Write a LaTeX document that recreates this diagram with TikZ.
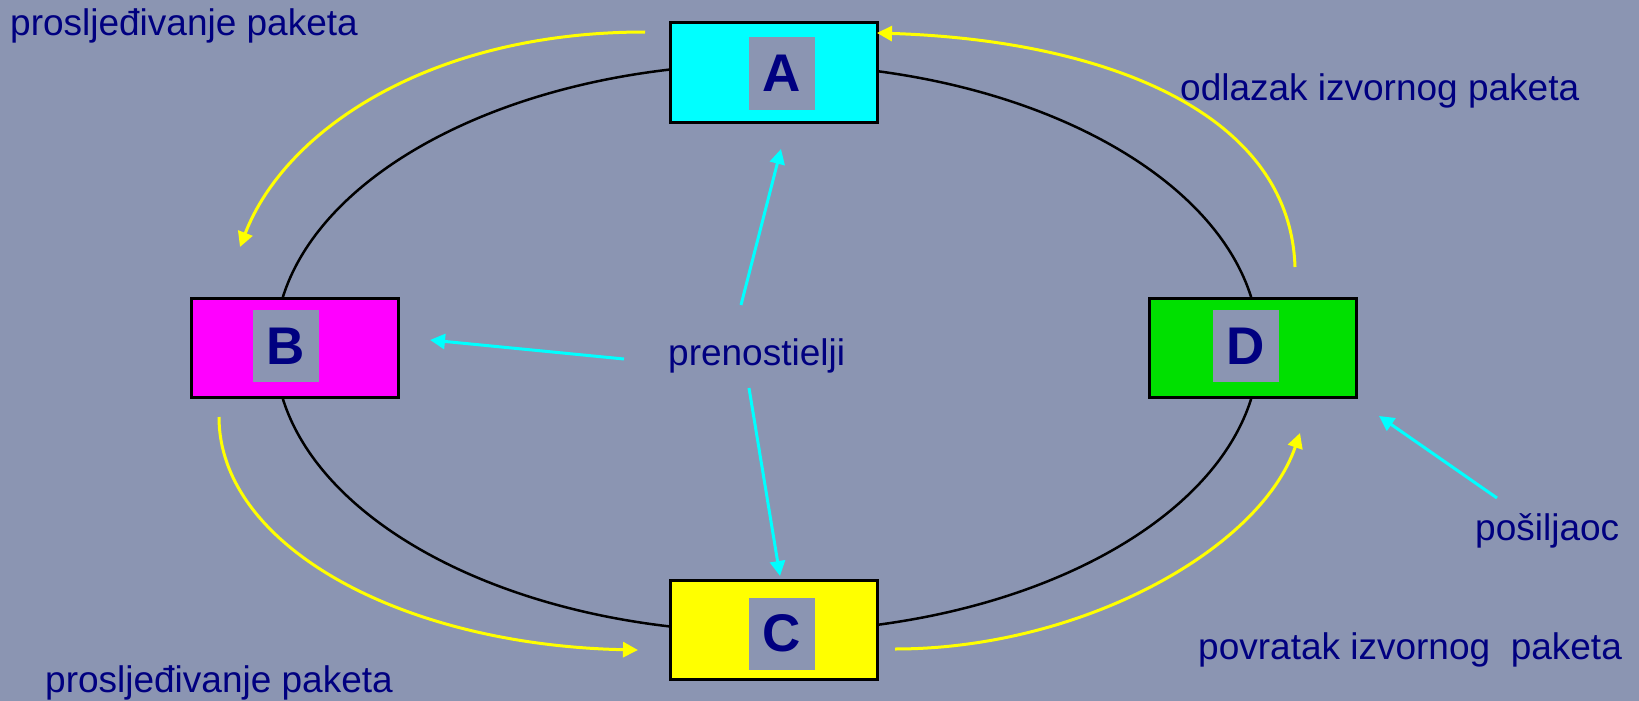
\documentclass[tikz,border=0pt]{standalone}
\usepackage{fontspec}
\setmainfont{Liberation Sans}
\usetikzlibrary{arrows.meta}
\definecolor{bg}{RGB}{139,149,178}
\definecolor{navy}{RGB}{0,0,128}
\definecolor{gcol}{RGB}{0,224,0}
\definecolor{cy}{RGB}{0,255,255}
\definecolor{mg}{RGB}{255,0,255}
\definecolor{yl}{RGB}{255,255,0}
\tikzset{
  box/.style={draw=black, line width=3pt, minimum width=207pt, minimum height=99pt, inner sep=0pt},
  gsq/.style={fill=bg, minimum width=66pt, minimum height=72pt, inner sep=0pt, text=navy,
     font=\fontsize{53}{56}\selectfont\bfseries},
  lab/.style={anchor=base west, inner sep=0pt, text=navy, font=\fontsize{37}{40}\selectfont},
  yarr/.style={draw=yl, line width=3pt, -{Triangle[length=15pt,width=15pt]}},
  carr/.style={draw=cy, line width=3pt, -{Triangle[length=15pt,width=15pt]}},
}
\begin{document}
\begin{tikzpicture}[x=1pt,y=-1pt]
\fill[bg] (0,0) rectangle (1639,701);
\useasboundingbox (0,0) rectangle (1639,701);
% ring
\draw[black, line width=2.5pt] (767,348) ellipse [x radius=492, y radius=284];
% boxes
\node[box, fill=cy] (A) at (773.5,72.5) {};
\node[box, fill=mg] (B) at (295,348) {};
\node[box, fill=yl] (C) at (773.5,629.5) {};
\node[box, fill=gcol] (D) at (1252.5,348) {};
\node[gsq] (gA) at (782,73.5) {A};
\node[gsq] (gB) at (286,346) {B};
\node[gsq] (gC) at (782,633.5) {C};
\node[gsq] (gD) at (1246,346) {D};
% labels
\node[lab] (t1) at (10,36) {prosljeđivanje paketa};
\node[lab] (t2) at (1180,100) {odlazak izvornog paketa};
\node[lab] (t3) at (668,365) {prenostielji};
\node[lab] (t4) at (1475,540) {pošiljaoc};
\node[lab] (t5) at (1198,659) {povratak izvornog~~paketa};
\node[lab] (t6) at (45,692) {prosljeđivanje paketa};
% yellow arrow ends
\coordinate (y1s) at (645,32);   \coordinate (y1e) at (240,247);
\coordinate (y2s) at (1295,267); \coordinate (y2e) at (877,33);
\coordinate (y3s) at (219,417);  \coordinate (y3e) at (638,650);
\coordinate (y4s) at (895,649);  \coordinate (y4e) at (1300,433);
\draw[yarr] (y1s) .. controls (430,32) and (285,130) .. (y1e);
\draw[yarr] (y2s) .. controls (1290,110) and (1100,40) .. (y2e);
\draw[yarr] (y3s) .. controls (219,545) and (400,645) .. (y3e);
\draw[yarr] (y4s) .. controls (1080,649) and (1260,550) .. (y4e);
% cyan arrows
\coordinate (c1s) at (741,305); \coordinate (c1e) at (781,149);
\coordinate (c2s) at (624,359); \coordinate (c2e) at (430,340);
\coordinate (c3s) at (749,388); \coordinate (c3e) at (780,576);
\coordinate (c4s) at (1497,498); \coordinate (c4e) at (1379,416);
\draw[carr] (c1s) -- (c1e);
\draw[carr] (c2s) -- (c2e);
\draw[carr] (c3s) -- (c3e);
\draw[carr] (c4s) -- (c4e);
\end{tikzpicture}
\end{document}
